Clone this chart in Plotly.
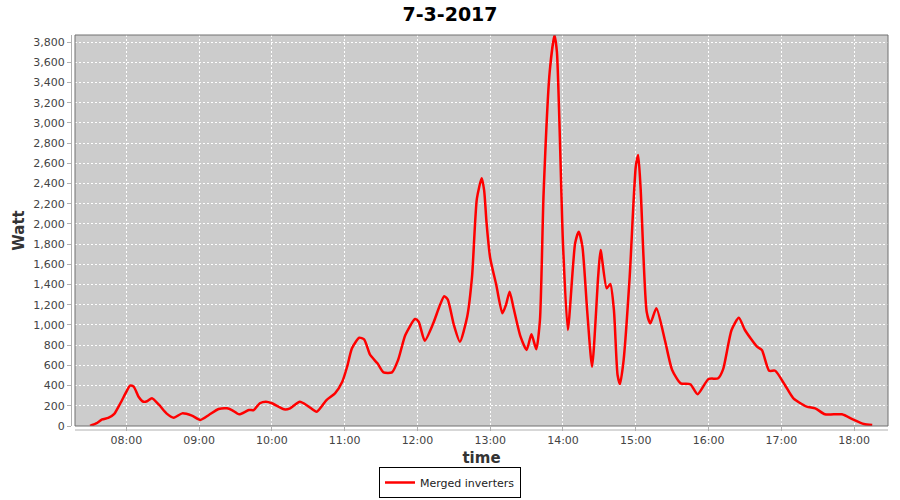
import plotly.graph_objects as go

times = ["07:30","07:35","07:40","07:45","07:50","07:55","08:00","08:03","08:06","08:10",
         "08:14","08:17","08:21","08:27","08:33","08:39","08:46","08:54","09:01","09:08",
         "09:16","09:23","09:27","09:33","09:41","09:45","09:50","09:55","10:00","10:10",
         "10:15","10:23","10:30","10:37","10:45","10:52","10:58","11:02","11:06","11:12",
         "11:16","11:21","11:27","11:32","11:39","11:44","11:50","11:58","12:01","12:06",
         "12:13","12:18","12:22","12:25","12:30","12:35","12:41","12:45","12:49","12:53",
         "12:55","12:57","13:00","13:05","13:10","13:13","13:16","13:19","13:25","13:30",
         "13:34","13:38","13:41","13:44","13:49","13:53","13:55","14:00","14:04","14:10",
         "14:13","14:16","14:20","14:24","14:29","14:31","14:36","14:39","14:42","14:45",
         "14:47","14:50","14:55","15:00","15:02","15:04","15:09","15:12","15:17","15:24",
         "15:30","15:37","15:45","15:51","16:00","16:08","16:12","16:19","16:25","16:30",
         "16:40","16:44","16:50","16:55","17:03","17:10","17:21","17:28","17:36","17:50",
         "17:59","18:08","18:15"]
watt = [0,25,65,80,120,225,340,400,390,290,
        240,245,275,208,125,82,125,102,60,109,
        168,175,158,116,158,158,225,240,225,165,
        175,240,195,142,257,323,438,587,769,874,
        858,703,620,531,531,653,900,1059,1032,844,
        1016,1180,1285,1250,1000,834,1082,1478,2250,2451,
        2330,2006,1660,1395,1115,1200,1329,1181,884,752,
        907,759,1049,2300,3500,3870,3700,1800,950,1808,
        1923,1775,1131,587,1478,1742,1363,1405,1148,505,
        416,653,1478,2566,2682,2352,1131,1016,1165,851,
        554,422,413,314,465,472,560,950,1072,950,
        785,752,547,547,406,274,191,175,116,116,
        66,20,10]
date = "2017-03-07"
x = [f"{date} {t}" for t in times]

fig = go.Figure()
fig.add_trace(go.Scatter(x=x, y=watt, mode="lines", name="Merged inverters",
                         line=dict(color="#ff0000", width=2.5, shape="spline", smoothing=0.6)))

W, H = 900, 500
ml, mr, mt, mb = 71, 12, 35, 74
pw = W - ml - mr
ph = H - mt - mb
gap = 4
axis_grey = "#b0b0b0"

fig.update_layout(
    width=W, height=H,
    margin=dict(l=ml, r=mr, t=mt, b=mb, autoexpand=False),
    paper_bgcolor="white", plot_bgcolor="#cccccc",
    font=dict(family="DejaVu Sans", size=11, color="#444444"),
    title=dict(text="7-3-2017", x=0.5, xref="container", xanchor="center",
               y=1 - 14 / H, yref="container", yanchor="middle",
               font=dict(family="DejaVu Sans", size=19, color="black", weight="bold")),
    showlegend=True,
    legend=dict(orientation="h", x=0.5, xref="container", xanchor="center",
                y=2 / H, yref="container", yanchor="bottom",
                bgcolor="white", bordercolor="black", borderwidth=1,
                font=dict(family="DejaVu Sans", size=11, color="#222222"),
                itemwidth=30, tracegroupgap=0),
    xaxis=dict(domain=[gap / pw, 1], anchor="y", automargin=False,
               type="date", range=[f"{date} 07:17:36", f"{date} 18:28:00"],
               tick0=f"{date} 08:00", dtick=3600000, tickformat="%H:%M",
               showgrid=True, gridcolor="white", griddash="2px,2px", gridwidth=1,
               showline=False,
               ticks="outside", ticklen=4, tickcolor=axis_grey,
               zeroline=False,
               title=dict(text="time", standoff=8,
                          font=dict(family="DejaVu Sans", size=15, color="#333333", weight="bold"))),
    yaxis=dict(domain=[0, 1], anchor="free", position=0, automargin=False,
               range=[0, 3870], dtick=200, tickformat=",d",
               showgrid=True, gridcolor="white", griddash="2px,2px", gridwidth=1,
               showline=True, linecolor=axis_grey, linewidth=1,
               ticks="outside", ticklen=4, tickcolor=axis_grey,
               zeroline=False,
               title=dict(text="Watt", standoff=4,
                          font=dict(family="DejaVu Sans", size=15, color="#333333", weight="bold"))),
    shapes=[
        dict(type="rect", xref="x domain", yref="y domain", x0=0, x1=1, y0=0, y1=1,
             line=dict(color="#707070", width=1), fillcolor="rgba(0,0,0,0)", layer="above"),
        dict(type="line", xref="x domain", yref="y domain", x0=0, x1=1,
             y0=-gap / ph, y1=-gap / ph, line=dict(color=axis_grey, width=1), layer="above"),
    ],
)

fig.write_html("out.html", config={"displayModeBar": False},
               post_script="document.body.style.margin='0';")
